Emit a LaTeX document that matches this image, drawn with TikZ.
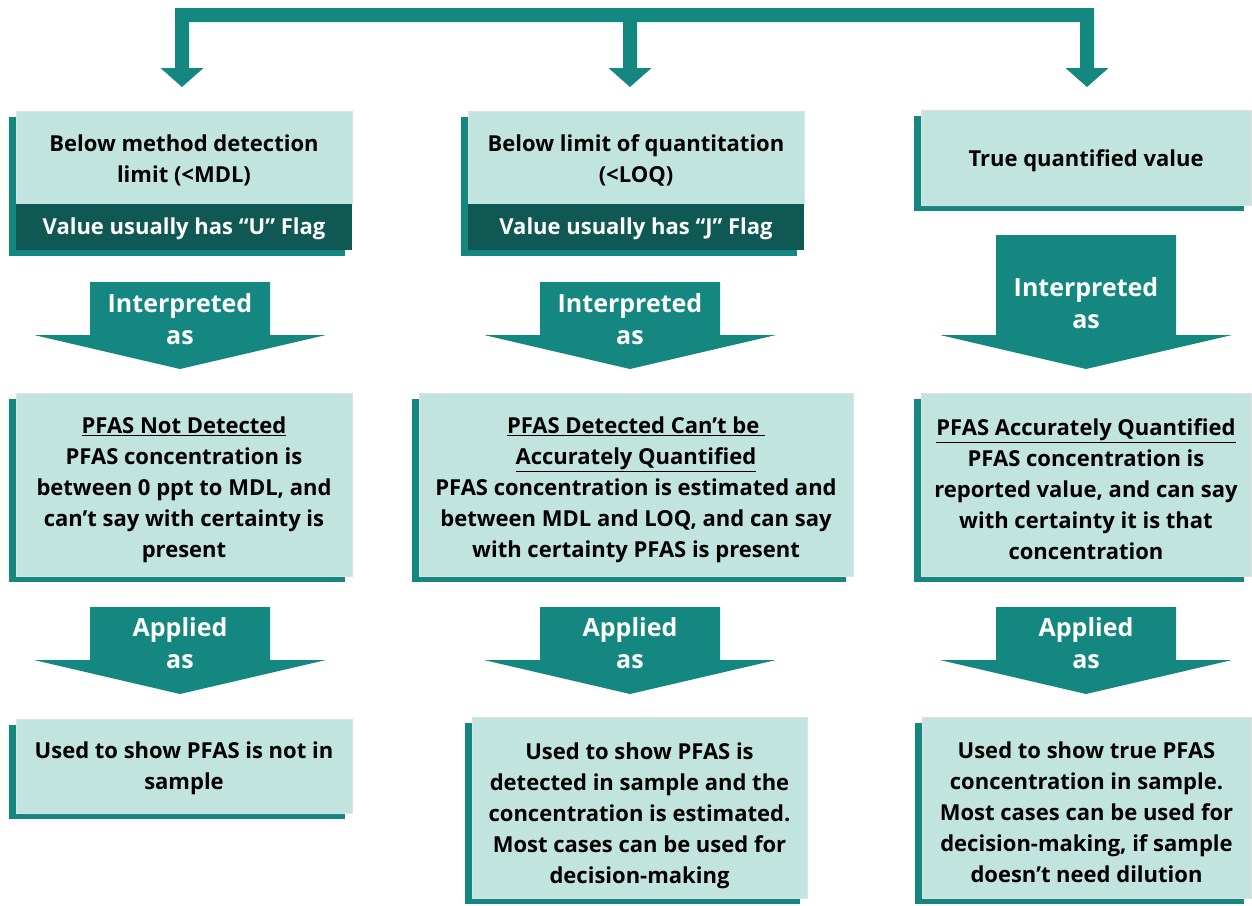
\documentclass[tikz,border=0pt]{standalone}
\usepackage{fontspec}
\setmainfont{Open Sans}
\usetikzlibrary{shadows}
\definecolor{tealmain}{RGB}{19,135,128}
\definecolor{tealdark}{RGB}{16,88,83}
\definecolor{lightbox}{RGB}{193,228,222}
\newcommand\blockarrow[4]{%
  \fill[tealmain] (#1-90,#2) -- (#1+90,#2) -- (#1+90,#3) -- (#1+146,#3) -- (#1,#4) -- (#1-146,#3) -- (#1-90,#3) -- cycle;}
\begin{document}
\begin{tikzpicture}[x=1pt,y=-1pt,
  panel/.style={fill=lightbox, draw=black!12, line width=0.6pt, inner sep=0pt,
    drop shadow={shadow xshift=-7pt, shadow yshift=-6pt, fill=tealmain, opacity=1}},
  band/.style={fill=tealdark, inner sep=0pt,
    drop shadow={shadow xshift=-7pt, shadow yshift=-6pt, fill=tealmain, opacity=1}},
  boxtext/.style={font=\bfseries\fontsize{22}{31}\selectfont, text=black, align=center, inner sep=0pt},
  bandtext/.style={boxtext, text=white},
  arrowtext/.style={font=\bfseries\fontsize{25}{32}\selectfont, align=center, text=white, inner sep=0pt},
]
\useasboundingbox (0,0) rectangle (1252,905);

% top distribution bracket
\fill[tealmain] (175,8) -- (1094,8) -- (1094,68) -- (1108.5,68) -- (1087,87) -- (1065.5,68) -- (1080,68)
  -- (1080,22) -- (637,22) -- (637,68) -- (651.5,68) -- (630,87) -- (608.5,68) -- (623,68)
  -- (623,22) -- (189,22) -- (189,68) -- (203.5,68) -- (182,87) -- (160.5,68) -- (175,68) -- cycle;
\coordinate (tipA) at (182,87);
\coordinate (tipB) at (630,87);
\coordinate (tipC) at (1087,87);

% row 1
\node[panel, minimum width=336pt, minimum height=93pt] (a1) at (184,157.5) {};
\node[boxtext] (a1t) at ([yshift=-2.5pt]a1.center) {Below method detection\\limit (<MDL)};
\node[band, minimum width=336pt, minimum height=46pt] (a1b) at (184,227) {};
\node[bandtext] (a1bt) at ([yshift=-2pt]a1b.center) {Value usually has “U” Flag};
\node[panel, minimum width=336pt, minimum height=93pt] (b1) at (636,157.5) {};
\node[boxtext] (b1t) at ([yshift=-2.5pt]b1.center) {Below limit of quantitation\\(<LOQ)};
\node[band, minimum width=336pt, minimum height=46pt] (b1b) at (636,227) {};
\node[bandtext] (b1bt) at ([yshift=-2pt]b1b.center) {Value usually has “J” Flag};
\node[panel, minimum width=330pt, minimum height=95pt] (c1) at (1086,157.5) {};
\node[boxtext] (c1t) at ([yshift=-3pt]c1.center) {True quantified value};

% interpreted arrows
\blockarrow{180}{282}{335}{369}
\node[arrowtext] (ia) at (180,319) {Interpreted\\as};
\blockarrow{630}{282}{335}{369}
\node[arrowtext] (ib) at (630,319) {Interpreted\\as};
\blockarrow{1086}{235}{335}{369}
\node[arrowtext] (ic) at (1086,303) {Interpreted\\as};

% row 2
\node[panel, minimum width=336pt, minimum height=183pt] (a2) at (184,484.5) {};
\node[boxtext] (a2t) at ([yshift=-5pt]a2.center)
  {\underline{PFAS Not Detected}\\PFAS concentration is\\between 0 ppt to MDL, and\\can’t say with certainty is\\present};
\node[panel, minimum width=434pt, minimum height=183pt] (b2) at (636,484.5) {};
\node[boxtext] (b2t) at ([yshift=-5pt]b2.center)
  {\underline{PFAS Detected Can’t be\ }\\\underline{Accurately Quantified}\\PFAS concentration is estimated and\\between MDL and LOQ, and can say\\with certainty PFAS is present};
\node[panel, minimum width=330pt, minimum height=183pt] (c2) at (1086,484.5) {};
\node[boxtext] (c2t) at ([yshift=-5pt]c2.center)
  {\underline{PFAS Accurately Quantified}\\PFAS concentration is\\reported value, and can say\\with certainty it is that\\concentration};

% applied arrows
\blockarrow{180}{607}{660}{694}
\node[arrowtext] (pa) at (180,643) {Applied\\as};
\blockarrow{630}{607}{660}{694}
\node[arrowtext] (pb) at (630,643) {Applied\\as};
\blockarrow{1086}{607}{660}{694}
\node[arrowtext] (pc) at (1086,643) {Applied\\as};

% row 3
\node[panel, minimum width=336pt, minimum height=94pt] (a3) at (184,766) {};
\node[boxtext] (a3t) at ([yshift=-2.5pt]a3.center) {Used to show PFAS is not in\\sample};
\node[panel, minimum width=335pt, minimum height=181pt] (b3) at (639.5,807.5) {};
\node[boxtext] (b3t) at ([yshift=-8pt]b3.center)
  {Used to show PFAS is\\detected in sample and the\\concentration is estimated.\\Most cases can be used for\\decision-making};
\node[panel, minimum width=329pt, minimum height=181pt] (c3) at (1086.5,807.5) {};
\node[boxtext] (c3t) at ([yshift=-5pt]c3.center)
  {Used to show true PFAS\\concentration in sample.\\Most cases can be used for\\decision-making, if sample\\doesn’t need dilution};
\end{tikzpicture}
\end{document}
